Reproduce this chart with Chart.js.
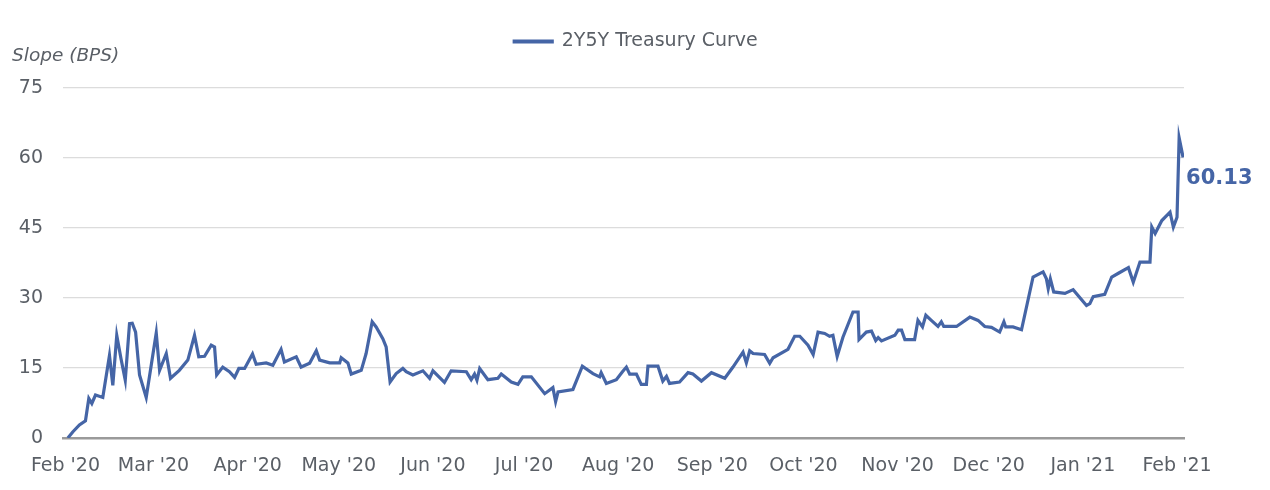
<!DOCTYPE html>
<html>
<head>
<meta charset="utf-8">
<script src="https://cdn.jsdelivr.net/npm/chart.js@4.4.1/dist/chart.umd.min.js"></script>
<style>
  html, body { margin: 0; padding: 0; background: #fff; }
  #wrap { width: 1270px; height: 490px; position: relative; }
</style>
</head>
<body>
<div id="wrap"><canvas id="slopeChart"></canvas></div>
<script>
// 2Y5Y treasury curve slope
// x = days since 1 Feb 2020, y = slope in bps
const dayOffsets = [
  0.8, 2.4, 4.6, 6.6, 7.7, 8.7, 9.9, 12.3, 14.5, 15.6, 16.9, 18.3, 19.7, 21.1, 22.0, 23.1,
  24.4, 26.6, 29.9, 31.0, 33.2, 34.6, 37.5, 40.3, 42.5, 43.9, 45.8, 48.0, 49.1, 49.8, 51.8,
  54.0, 55.7, 57.1, 59.0, 61.6, 62.8, 66.1, 68.3, 71.0, 72.1, 76.0, 77.6, 80.4, 82.6, 83.7,
  87.0, 90.3, 90.8, 93.0, 94.1, 97.4, 99.0, 101.0, 102.3, 104.5, 105.6, 106.9, 108.9, 111.1,
  112.2, 114.4, 117.7, 119.9, 121.0, 124.8, 127.0, 132.0, 133.6, 134.7, 135.5, 136.4, 139.1,
  142.4, 143.5, 146.8, 149.0, 150.6, 153.4, 157.8, 160.5, 161.4, 162.2, 167.1, 170.2, 173.7,
  175.9, 176.4, 178.1, 181.4, 183.4, 184.7, 185.8, 188.0, 189.6, 191.3, 191.8, 195.1, 196.7,
  197.9, 198.9, 202.2, 205.0, 206.6, 209.4, 212.7, 217.1, 219.8, 223.1, 224.2, 225.3, 226.4,
  230.2, 231.9, 233.0, 237.9, 240.1, 241.8, 244.5, 246.2, 247.8, 250.0, 251.6, 252.7, 254.1,
  256.0, 259.3, 261.0, 261.3, 263.7, 265.4, 266.8, 267.6, 268.7, 273.1, 274.2, 275.3, 276.4,
  279.6, 280.7, 282.2, 283.3, 285.1, 287.3, 288.4, 289.2, 293.4, 297.8, 300.5, 302.7, 304.9,
  307.6, 309.0, 309.6, 312.0, 314.8, 318.6, 321.9, 323.0, 323.6, 324.3, 325.4, 329.1, 331.8,
  336.2, 337.3, 338.4, 342.2, 344.5, 346.7, 350.0, 351.6, 353.8, 357.1, 357.7, 358.8, 361.0,
  363.7, 364.8, 366.0, 366.7, 368.0
];
const slopeBps = [
  0, 1.3, 2.8, 3.7, 8.5, 7.4, 9.2, 8.7, 17.7, 11.3, 22, 17, 12.4, 24.5, 24.6, 22.7,
  13.5, 8.7, 22.5, 14.5, 18.1, 12.8, 14.5, 16.7, 22, 17.4, 17.5, 19.9, 19.5, 13.5, 15.2,
  14.2, 13, 14.9, 14.9, 18, 15.8, 16.1, 15.6, 19, 16.3, 17.4, 15.2, 16, 18.7, 16.7,
  16.1, 16.1, 17.2, 16.1, 13.7, 14.5, 18.1, 24.9, 23.8, 21.3, 19.5, 12, 13.8, 14.9,
  14.2, 13.5, 14.4, 12.8, 14.4, 11.9, 14.4, 14.2, 12.5, 13.7, 12.4, 14.9, 12.5,
  12.8, 13.7, 12, 11.5, 13.1, 13.1, 9.5, 10.8, 7.8, 9.9, 10.4, 15.4, 13.8,
  13.1, 14, 11.7, 12.5, 14.2, 15.2, 13.7, 13.7, 11.5, 11.5, 15.4, 15.4, 12.2,
  13.2, 11.7, 12, 14, 13.7, 12.2, 14, 12.8, 15.2, 18.4, 16.1, 18.7, 18.1,
  17.9, 16, 17.2, 19, 21.8, 21.8, 19.9, 17.9, 22.7, 22.4, 21.8, 22, 17.5,
  21.6, 27, 27, 21.1, 22.7, 22.9, 20.9, 21.5, 20.8, 22, 23.1, 23.1, 21.1,
  21.1, 25.2, 23.8, 26.3, 25.2, 23.9, 24.9, 23.9, 23.9, 25.9, 25.2, 23.9, 23.7,
  22.7, 24.9, 23.8, 23.8, 23.2, 34.5, 35.6, 34.1, 32, 34.1, 31.3, 31, 31.8,
  28.4, 28.8, 30.3, 30.8, 34.5, 35.3, 36.5, 33.4, 37.7, 37.7, 45.2, 43.8, 46.6,
  48.4, 45.2, 47.3, 64.3, 60.13
];

// month ticks on the x axis
const monthDays = [0, 29, 60, 90, 121, 151, 182, 213, 243, 274, 304, 335, 366];
const monthLabels = ["Feb '20", "Mar '20", "Apr '20", "May '20", "Jun '20", "Jul '20",
  "Aug '20", "Sep '20", "Oct '20", "Nov '20", "Dec '20", "Jan '21", "Feb '21"];

const yTicks = [0, 15, 30, 45, 60, 75];

const LINE = '#4565a6';
const TEXT = '#5a5f66';
const FONT = "'DejaVu Sans', 'Liberation Sans', sans-serif";

// draws the "Slope (BPS)" caption and the last value tag
const annotations = {
  id: 'annotations',
  afterDatasetsDraw(chart) {
    const { ctx, chartArea } = chart;
    ctx.save();
    ctx.font = 'italic 18.5px ' + FONT;
    ctx.fillStyle = TEXT;
    ctx.textAlign = 'left';
    ctx.textBaseline = 'middle';
    ctx.fillText('Slope (BPS)', chartArea.left - 51, chartArea.top - 32);

    const meta = chart.getDatasetMeta(0);
    const last = meta.data[meta.data.length - 1];
    ctx.font = 'bold 21px ' + FONT;
    ctx.fillStyle = LINE;
    ctx.fillText(slopeBps[slopeBps.length - 1].toFixed(2), last.x + 3, last.y + 21);
    ctx.restore();
  }
};

new Chart(document.getElementById('slopeChart'), {
  type: 'line',
  data: {
    datasets: [{
      label: '2Y5Y Treasury Curve',
      data: dayOffsets.map((d, i) => ({ x: d, y: slopeBps[i] })),
      borderColor: LINE,
      backgroundColor: LINE,
      borderWidth: 3.2,
      pointRadius: 0,
      tension: 0
    }]
  },
  options: {
    responsive: true,
    maintainAspectRatio: false,
    animation: false,
    layout: { padding: { left: 2, right: 0, top: 20, bottom: 0 } },
    plugins: {
      legend: {
        position: 'top',
        labels: {
          color: TEXT,
          font: { size: 19, family: FONT },
          boxWidth: 38,
          boxHeight: 1,
          padding: 12
        }
      },
      // blank spacer between legend and plot
      title: {
        display: true,
        text: ' ',
        weight: 500,
        font: { size: 10, lineHeight: 1.2 },
        padding: { top: 0, bottom: 15 }
      },
      tooltip: { enabled: false }
    },
    scales: {
      x: {
        type: 'linear',
        min: -0.8,
        max: 368.3,
        afterBuildTicks: axis => { axis.ticks = monthDays.map(v => ({ value: v })); },
        afterFit: axis => { axis.height = 52; },
        ticks: {
          autoSkip: false,
          maxRotation: 0,
          padding: 17,
          color: TEXT,
          font: { size: 19, family: FONT },
          callback: v => monthLabels[monthDays.indexOf(v)]
        },
        grid: { display: false, drawTicks: false },
        border: { display: true, color: '#9a9a9a', width: 2.5 }
      },
      y: {
        min: 0,
        max: 75,
        afterBuildTicks: axis => { axis.ticks = yTicks.map(v => ({ value: v })); },
        afterFit: axis => { axis.width = 61; },
        ticks: {
          padding: 20,
          color: TEXT,
          font: { size: 19, family: FONT }
        },
        grid: { color: '#dcdcdc', lineWidth: 1.2, drawTicks: false },
        border: { display: false }
      },
      // empty right gutter that holds the end-value tag
      gutter: {
        type: 'linear',
        position: 'right',
        min: 0,
        max: 75,
        afterFit: axis => { axis.width = 86; },
        ticks: { display: false },
        grid: { display: false, drawTicks: false },
        border: { display: false }
      }
    }
  },
  plugins: [annotations]
});
</script>
</body>
</html>
